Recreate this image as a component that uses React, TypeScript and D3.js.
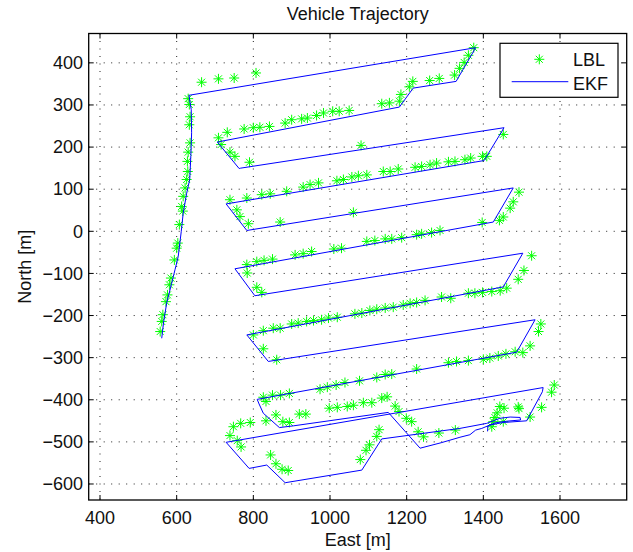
import React from 'react'
import * as d3 from 'd3'

// EKF track (east, north) in metres
const ekfTrack: [number, number][] = [
  [561, -254], [566, -215], [574, -170], [587, -123], [596, -90], [604, -60], [612, 0], [617, 43],
  [626, 90], [634, 123], [637, 180], [639, 234], [638, 289], [632, 323],
  [1380, 436], [1329, 356], [1217, 340], [1181, 295], [706, 212],
  [763, 149], [767, 150], [1454, 246], [1402, 168], [729, 65],
  [783, 2], [1478, 103], [1426, 22], [752, -89],
  [804, -153], [1503, -52], [1452, -132], [783, -246],
  [839, -309], [1535, -210], [1487, -287], [810, -399],
  [815, -410], [826, -432], [868, -466], [904, -462], [1152, -430], [1235, -515], [1290, -502],
  [1339, -489], [1365, -483], [1380, -472], [1396, -468], [1417, -460], [1452, -454], [1513, -450],
  [1554, -381], [1556, -371],
  [729, -501], [789, -563], [835, -555], [883, -597], [1083, -567], [1135, -493], [1339, -468],
  [1409, -456], [1443, -444], [1470, -441], [1496, -442], [1497, -448], [1460, -451], [1430, -455],
  [1412, -462], [1411, -475],
]

// LBL fixes, grouped by survey leg
const lblNorthLeg: [number, number][] = [
  [557, -238], [561, -214], [564, -198], [572, -167], [576, -151], [581, -127], [585, -111], [594, -68],
  [600, -40], [603, -28], [607, 16], [613, 59], [616, 48], [617, 83], [622, 103], [626, 123], [629, 142],
  [628, 166], [630, 188], [635, 210], [633, 253], [635, 272], [633, 301], [630, 315],
  [665, 354], [709, 362], [750, 364], [807, 376],
]
const lblRowA: [number, number][] = [
  [709, 222], [732, 235], [776, 243], [800, 246], [817, 247], [842, 249], [883, 257], [900, 265],
  [926, 267], [941, 269], [965, 275], [983, 281], [1007, 285], [1024, 285], [1050, 287], [1135, 303],
  [1155, 305], [1181, 309], [1185, 325], [1207, 343], [1216, 356], [1260, 358], [1285, 363], [1325, 371],
  [1338, 387], [1350, 401], [1361, 418], [1375, 436],
  [716, 206], [739, 188], [752, 178], [790, 164],
]
const lblRowB: [number, number][] = [
  [1081, 204], [1452, 230],
  [1409, 178], [1398, 178], [1367, 174], [1352, 170], [1326, 166], [1309, 165], [1278, 162], [1261, 158],
  [1239, 154], [1222, 152], [1178, 148], [1157, 142], [1139, 142], [1096, 134], [1074, 132], [1057, 129],
  [1035, 123], [1018, 120], [970, 115], [948, 111], [930, 105], [887, 95], [844, 89], [822, 87],
  [783, 79], [739, 75],
  [757, 51], [765, 35], [787, 18],
]
const lblRowC: [number, number][] = [
  [870, 22], [1061, 45],
  [1493, 93], [1478, 70], [1470, 55], [1452, 34], [1442, 26], [1397, 21],
  [1287, 2], [1265, -3], [1239, -6], [1226, -8], [1187, -15], [1161, -18], [1144, -18], [1117, -22],
  [1096, -24], [1030, -40], [1010, -42], [952, -48], [930, -53], [909, -56], [850, -66], [828, -69],
  [809, -72], [783, -79],
  [784, -99], [809, -133], [822, -145],
]
const lblRowD: [number, number][] = [
  [1526, -58], [1506, -93], [1491, -114],
  [1461, -135], [1444, -141], [1422, -143], [1398, -145], [1378, -147], [1361, -147], [1315, -159],
  [1291, -156], [1248, -164], [1226, -169], [1209, -171], [1191, -175], [1165, -180], [1144, -182],
  [1122, -185], [1104, -188], [1083, -194], [1065, -196], [1019, -204], [996, -206], [978, -210],
  [957, -212], [939, -214], [917, -218], [900, -220], [870, -230], [852, -230], [826, -236], [800, -246],
  [826, -279], [861, -305],
]
const lblRowE: [number, number][] = [
  [1550, -220], [1544, -238], [1522, -272], [1503, -288],
  [1483, -286], [1459, -291], [1439, -296], [1417, -301], [1400, -304], [1361, -307], [1330, -309],
  [1309, -312], [1226, -327], [1161, -339], [1144, -340], [1122, -347], [1077, -355], [1039, -359],
  [1016, -365], [993, -370], [974, -375], [894, -385], [871, -389], [850, -389], [833, -404], [826, -394],
]
const lblSouth: [number, number][] = [
  [833, -450], [859, -436], [877, -452], [894, -454], [920, -434], [937, -434], [998, -420], [1019, -418],
  [1045, -416], [1061, -413], [1087, -407], [1109, -407], [1135, -396], [1149, -393], [1170, -415],
  [1180, -428], [1199, -444], [1213, -452], [1230, -476], [1244, -488], [1284, -479], [1327, -472],
  [1422, -464], [1426, -452], [1430, -442], [1436, -431], [1443, -416], [1454, -420], [1452, -452],
  [1491, -417], [1493, -421], [1522, -441], [1552, -418], [1578, -382], [1585, -365],
  [739, -485], [748, -464], [767, -456], [792, -454], [758, -497], [768, -512], [845, -531], [859, -552],
  [875, -565], [891, -568], [1079, -542], [1094, -520], [1103, -507], [1122, -487], [1128, -471],
]

const xTicks = [400, 600, 800, 1000, 1200, 1400, 1600]
const yTicks = [-600, -500, -400, -300, -200, -100, 0, 100, 200, 300, 400]
const seriesNames = ['LBL', 'EKF']

const W = 633
const H = 552
const L = 88.7
const R = 626.7
const T = 33.5
const B = 500
const FONT = "'Liberation Sans', Arial, Helvetica, sans-serif"
const GREEN = '#00ff00'
const BLUE = '#0000ff'

const starPath = (cx: number, cy: number) => {
  const a = 5
  const d = 3.5
  return `M${cx - a},${cy}L${cx + a},${cy}M${cx},${cy - a}L${cx},${cy + a}` +
    `M${cx - d},${cy - d}L${cx + d},${cy + d}M${cx - d},${cy + d}L${cx + d},${cy - d}`
}

const fmt = (v: number) => (v < 0 ? '\u2212' + Math.abs(v) : String(v))

export default function App() {
  const x = d3.scaleLinear().domain([370.5, 1774]).range([L, R])
  const y = d3.scaleLinear().domain([-638, 469.7]).range([B, T])

  const lbl = [...lblNorthLeg, ...lblRowA, ...lblRowB, ...lblRowC, ...lblRowD, ...lblRowE, ...lblSouth]
  const line = d3.line<[number, number]>().x((d) => x(d[0])).y((d) => y(d[1]))

  const tick = 5

  return (
    <svg width={W} height={H} style={{ position: 'absolute', left: 0, top: 0, background: '#fff' }}
      fontFamily={FONT}>
      <rect x={0} y={0} width={W} height={H} fill="#fff" />
      <rect x={L} y={T} width={R - L} height={B - T} fill="#fff" />

      {/* grid */}
      <g stroke="#222" strokeWidth={1} strokeDasharray="1,6.5">
        {xTicks.map((t) => (
          <line key={'gx' + t} x1={x(t)} x2={x(t)} y1={T} y2={B} />
        ))}
        {yTicks.map((t) => (
          <line key={'gy' + t} x1={L} x2={R} y1={y(t)} y2={y(t)} />
        ))}
      </g>

      {/* LBL fixes */}
      <g stroke={GREEN} strokeWidth={1} fill="none">
        {lbl.map((p, i) => (
          <path key={i} d={starPath(x(p[0]), y(p[1]))} />
        ))}
      </g>

      {/* EKF */}
      <path d={line(ekfTrack) || ''} fill="none" stroke={BLUE} strokeWidth={1} strokeLinejoin="round" />

      {/* ticks */}
      <g stroke="#000" strokeWidth={1}>
        {xTicks.map((t) => (
          <g key={'tx' + t}>
            <line x1={x(t)} x2={x(t)} y1={B} y2={B - tick} />
            <line x1={x(t)} x2={x(t)} y1={T} y2={T + tick} />
          </g>
        ))}
        {yTicks.map((t) => (
          <g key={'ty' + t}>
            <line x1={L} x2={L + tick} y1={y(t)} y2={y(t)} />
            <line x1={R} x2={R - tick} y1={y(t)} y2={y(t)} />
          </g>
        ))}
      </g>
      <rect x={L} y={T} width={R - L} height={B - T} fill="none" stroke="#000" strokeWidth={1.3} />

      {/* tick labels */}
      <g fontSize={18} fill="#111">
        {xTicks.map((t) => (
          <text key={'lx' + t} x={x(t)} y={524} textAnchor="middle">{fmt(t)}</text>
        ))}
        {yTicks.map((t) => (
          <text key={'ly' + t} x={83} y={y(t) + 6.3} textAnchor="end">{fmt(t)}</text>
        ))}
      </g>

      <text x={(L + R) / 2} y={20} textAnchor="middle" fontSize={18} fill="#111">Vehicle Trajectory</text>
      <text x={(L + R) / 2} y={546} textAnchor="middle" fontSize={18} fill="#111">East [m]</text>
      <text transform={`translate(31,${(T + B) / 2}) rotate(-90)`} textAnchor="middle" fontSize={18} fill="#111">North [m]</text>

      {/* legend */}
      <g>
        <rect x={500} y={43.3} width={118} height={54} fill="#fff" stroke="#000" strokeWidth={1.2} />
        <path d={starPath(539.3, 59.3)} stroke={GREEN} strokeWidth={1} fill="none" />
        <line x1={511.7} x2={568.3} y1={81.7} y2={81.7} stroke={BLUE} strokeWidth={1} />
        <text x={573} y={65.7} fontSize={18} fill="#111">{seriesNames[0]}</text>
        <text x={573} y={89.5} fontSize={18} fill="#111">{seriesNames[1]}</text>
      </g>
    </svg>
  )
}
